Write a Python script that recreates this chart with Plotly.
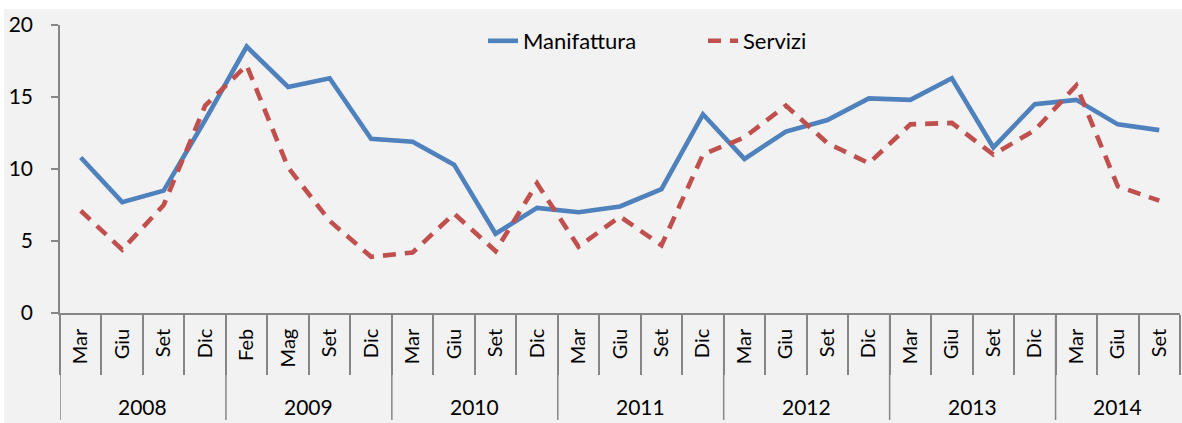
import plotly.graph_objects as go

years = ["2008", "2009", "2010", "2011", "2012", "2013", "2014"]
year_months = [
    ["Mar", "Giu", "Set", "Dic"],
    ["Feb", "Mag", "Set", "Dic"],
    ["Mar", "Giu", "Set", "Dic"],
    ["Mar", "Giu", "Set", "Dic"],
    ["Mar", "Giu", "Set", "Dic"],
    ["Mar", "Giu", "Set", "Dic"],
    ["Mar", "Giu", "Set"],
]

manifattura = [10.8, 7.7, 8.5, 13.4,
               18.5, 15.7, 16.3, 12.1,
               11.9, 10.3, 5.5, 7.3,
               7.0, 7.4, 8.6, 13.8,
               10.7, 12.6, 13.4, 14.9,
               14.8, 16.3, 11.5, 14.5,
               14.8, 13.1, 12.7]
servizi = [7.1, 4.4, 7.5, 14.4,
           17.2, 10.1, 6.4, 3.9,
           4.2, 6.9, 4.3, 9.0,
           4.6, 6.7, 4.7, 11.0,
           12.2, 14.4, 11.8, 10.4,
           13.1, 13.2, 11.0, 12.7,
           15.8, 8.8, 7.8]

# build unique category ids and their month labels
cats, month_labels = [], []
year_spans = []
for y, ms in zip(years, year_months):
    start = len(cats)
    for m in ms:
        cats.append(f"{y} {m}")
        month_labels.append(m)
    year_spans.append((y, start, len(cats) - 1))

FONT = "Lato, Carlito, Calibri, sans-serif"
AXIS = "#868686"
PLOT_H = 288.0
PLOT_W = 1120.0

fig = go.Figure()
fig.add_trace(go.Scatter(x=cats, y=manifattura, name="Manifattura",
                         mode="lines", line=dict(color="#4F81BD", width=4.6)))
fig.add_trace(go.Scatter(x=cats, y=servizi, name="Servizi",
                         mode="lines", line=dict(color="#C0504D", width=4.6, dash="13px,9px")))

shapes = [
    # white outer strips (top / left) as in the reference
    dict(type="rect", xref="paper", yref="paper", x0=-0.2, x1=1.2,
         y0=(313 - 9) / PLOT_H, y1=1.3, line=dict(width=0), fillcolor="white", layer="below"),
    dict(type="rect", xref="paper", yref="paper", x0=-0.2, x1=(4 - 60) / PLOT_W,
         y0=-0.5, y1=1.3, line=dict(width=0), fillcolor="white", layer="below"),
]
annotations = []
for y, a, b in year_spans:
    shapes.append(dict(type="line", xref="x", yref="paper", x0=a - 0.5, x1=a - 0.5,
                       y0=0, y1=-(420 - 313) / PLOT_H,
                       line=dict(color=AXIS, width=1.5)))
    annotations.append(dict(x=(a + b) / 2.0, xref="x", y=-(406 - 313) / PLOT_H, yref="paper",
                            text=y, showarrow=False, yanchor="middle",
                            font=dict(family=FONT, size=21, color="#000")))

fig.update_layout(
    width=1182, height=423,
    margin=dict(l=60, r=2, t=25, b=110, pad=0),
    paper_bgcolor="#F2F2F2", plot_bgcolor="#F2F2F2",
    font=dict(family=FONT, size=21, color="#000000"),
    showlegend=True,
    legend=dict(orientation="h", x=(483 - 60) / PLOT_W, xanchor="left",
                y=(313 - 41) / PLOT_H, yanchor="middle",
                bgcolor="rgba(0,0,0,0)", font=dict(size=22),
                entrywidth=175, traceorder="normal"),
    xaxis=dict(type="category", categoryorder="array", categoryarray=cats,
               range=[-0.5, len(cats) - 0.5],
               tickvals=cats, ticktext=month_labels, tickangle=-90,
               tickson="boundaries",
               showline=True, linecolor=AXIS, linewidth=1.5,
               ticks="outside", ticklen=60, tickcolor=AXIS, tickwidth=1.5,
               ticklabelstandoff=6,
               showgrid=False, tickfont=dict(size=20)),
    yaxis=dict(range=[0, 20], dtick=5, showline=True, linecolor=AXIS, linewidth=1.5,
               ticks="outside", ticklen=7, tickcolor=AXIS, tickwidth=1.5,
               showgrid=False, zeroline=False, ticklabelstandoff=14,
               tickfont=dict(size=21)),
    shapes=shapes, annotations=annotations,
)
fig.write_html("out.html", config={"displayModeBar": False},
               post_script="document.body.style.margin='0px';")
